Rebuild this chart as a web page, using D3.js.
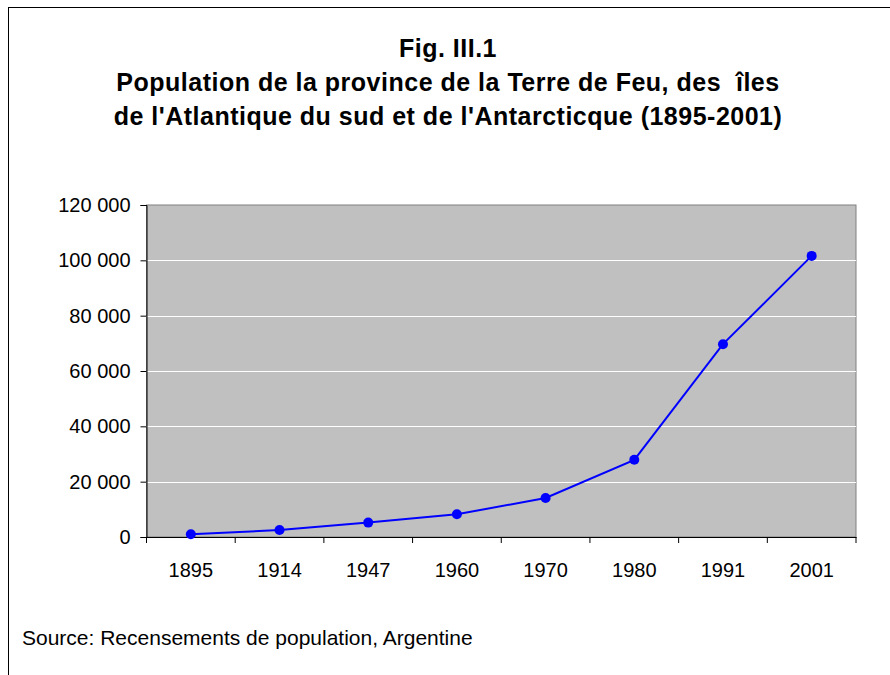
<!DOCTYPE html>
<html>
<head>
<meta charset="utf-8">
<script src="https://cdn.jsdelivr.net/npm/d3@7"></script>
<style>
  body { margin: 0; background: #fff; }
  svg text { font-family: "Liberation Sans", Arial, sans-serif; fill: #000; }
</style>
</head>
<body>
<div id="chart"></div>
<script>
const years = ["1895", "1914", "1947", "1960", "1970", "1980", "1991", "2001"];
const population = [1000, 2500, 5200, 8200, 14100, 27900, 69700, 101600];
const yTicks = [0, 20000, 40000, 60000, 80000, 100000, 120000];
const titleLines = [
    "Fig. III.1",
    "Population de la province de la Terre de Feu, des  îles",
    "de l'Atlantique du sud et de l'Antarcticque (1895-2001)"
];
const sourceText = "Source: Recensements de population, Argentine";

const W = 890, H = 675;
const margin = { top: 205, right: 34, bottom: 138, left: 146.5 },
    width = W - margin.left - margin.right,
    height = H - margin.top - margin.bottom;

const root = d3.select("#chart")
    .append("svg")
    .attr("width", W)
    .attr("height", H);

// outer frame of the chart
root.append("rect")
    .attr("x", 8.5).attr("y", 7.5)
    .attr("width", W + 10).attr("height", H + 10)
    .attr("fill", "none")
    .attr("stroke", "#000")
    .attr("stroke-width", 1);

// title
root.append("g")
    .selectAll("text")
    .data(titleLines)
    .join("text")
    .attr("x", 448)
    .attr("y", (d, i) => 57 + i * 34)
    .attr("text-anchor", "middle")
    .style("font-size", "25px")
    .style("font-weight", "bold")
    .style("letter-spacing", "0.5px")
    .style("white-space", "pre")
    .text(d => d);

root.append("text")
    .attr("x", 22)
    .attr("y", 645)
    .style("font-size", "21px")
    .text(sourceText);

const svg = root.append("g")
    .attr("transform", `translate(${margin.left},${margin.top})`);

const x = d3.scaleBand()
    .domain(years)
    .range([0, width]);

const y = d3.scaleLinear()
    .domain([0, 120000])
    .range([height, 0]);

// plot area
svg.append("rect")
    .attr("width", width)
    .attr("height", height)
    .attr("fill", "#c0c0c0")
    .attr("stroke", "#808080")
    .attr("stroke-width", 1);

// gridlines
svg.append("g")
    .selectAll("line")
    .data(yTicks.filter(d => d > 0 && d < 120000))
    .join("line")
    .attr("x1", 0)
    .attr("x2", width)
    .attr("y1", d => Math.round(y(d)) + 0.5)
    .attr("y2", d => Math.round(y(d)) + 0.5)
    .attr("stroke", "#fff")
    .attr("stroke-width", 1);

const fmt = d => d3.format(",")(d).replace(/,/g, " ");

// Y axis
const yAxis = svg.append("g")
    .call(d3.axisLeft(y).tickValues(yTicks).tickSize(6).tickPadding(10).tickFormat(fmt));
yAxis.select(".domain").attr("stroke", "#000");
yAxis.selectAll("text").style("font-size", "20px").style("font-family", "Liberation Sans, Arial, sans-serif");

// X axis, ticks at the band edges
const xAxis = svg.append("g")
    .attr("transform", `translate(0, ${height})`)
    .call(d3.axisBottom(x).tickSize(0).tickPadding(26));
xAxis.select(".domain").attr("stroke", "#000");
xAxis.selectAll("text").style("font-size", "20px").style("font-family", "Liberation Sans, Arial, sans-serif");
xAxis.selectAll("line.edge")
    .data(years.map(d => x(d)).concat([width]))
    .join("line")
    .attr("class", "edge")
    .attr("x1", d => d).attr("x2", d => d)
    .attr("y1", 0).attr("y2", 6)
    .attr("stroke", "#000");

// line and points
const cx = (d, i) => x(years[i]) + x.bandwidth() / 2;
const line = d3.line()
    .x((d, i) => cx(d, i))
    .y(d => y(d));

svg.append("path")
    .attr("d", line(population))
    .attr("fill", "none")
    .attr("stroke", "#0000ff")
    .attr("stroke-width", 2);

svg.selectAll("circle")
    .data(population)
    .join("circle")
    .attr("cx", (d, i) => cx(d, i))
    .attr("cy", d => y(d))
    .attr("r", 5)
    .attr("fill", "#0000ff");
</script>
</body>
</html>
